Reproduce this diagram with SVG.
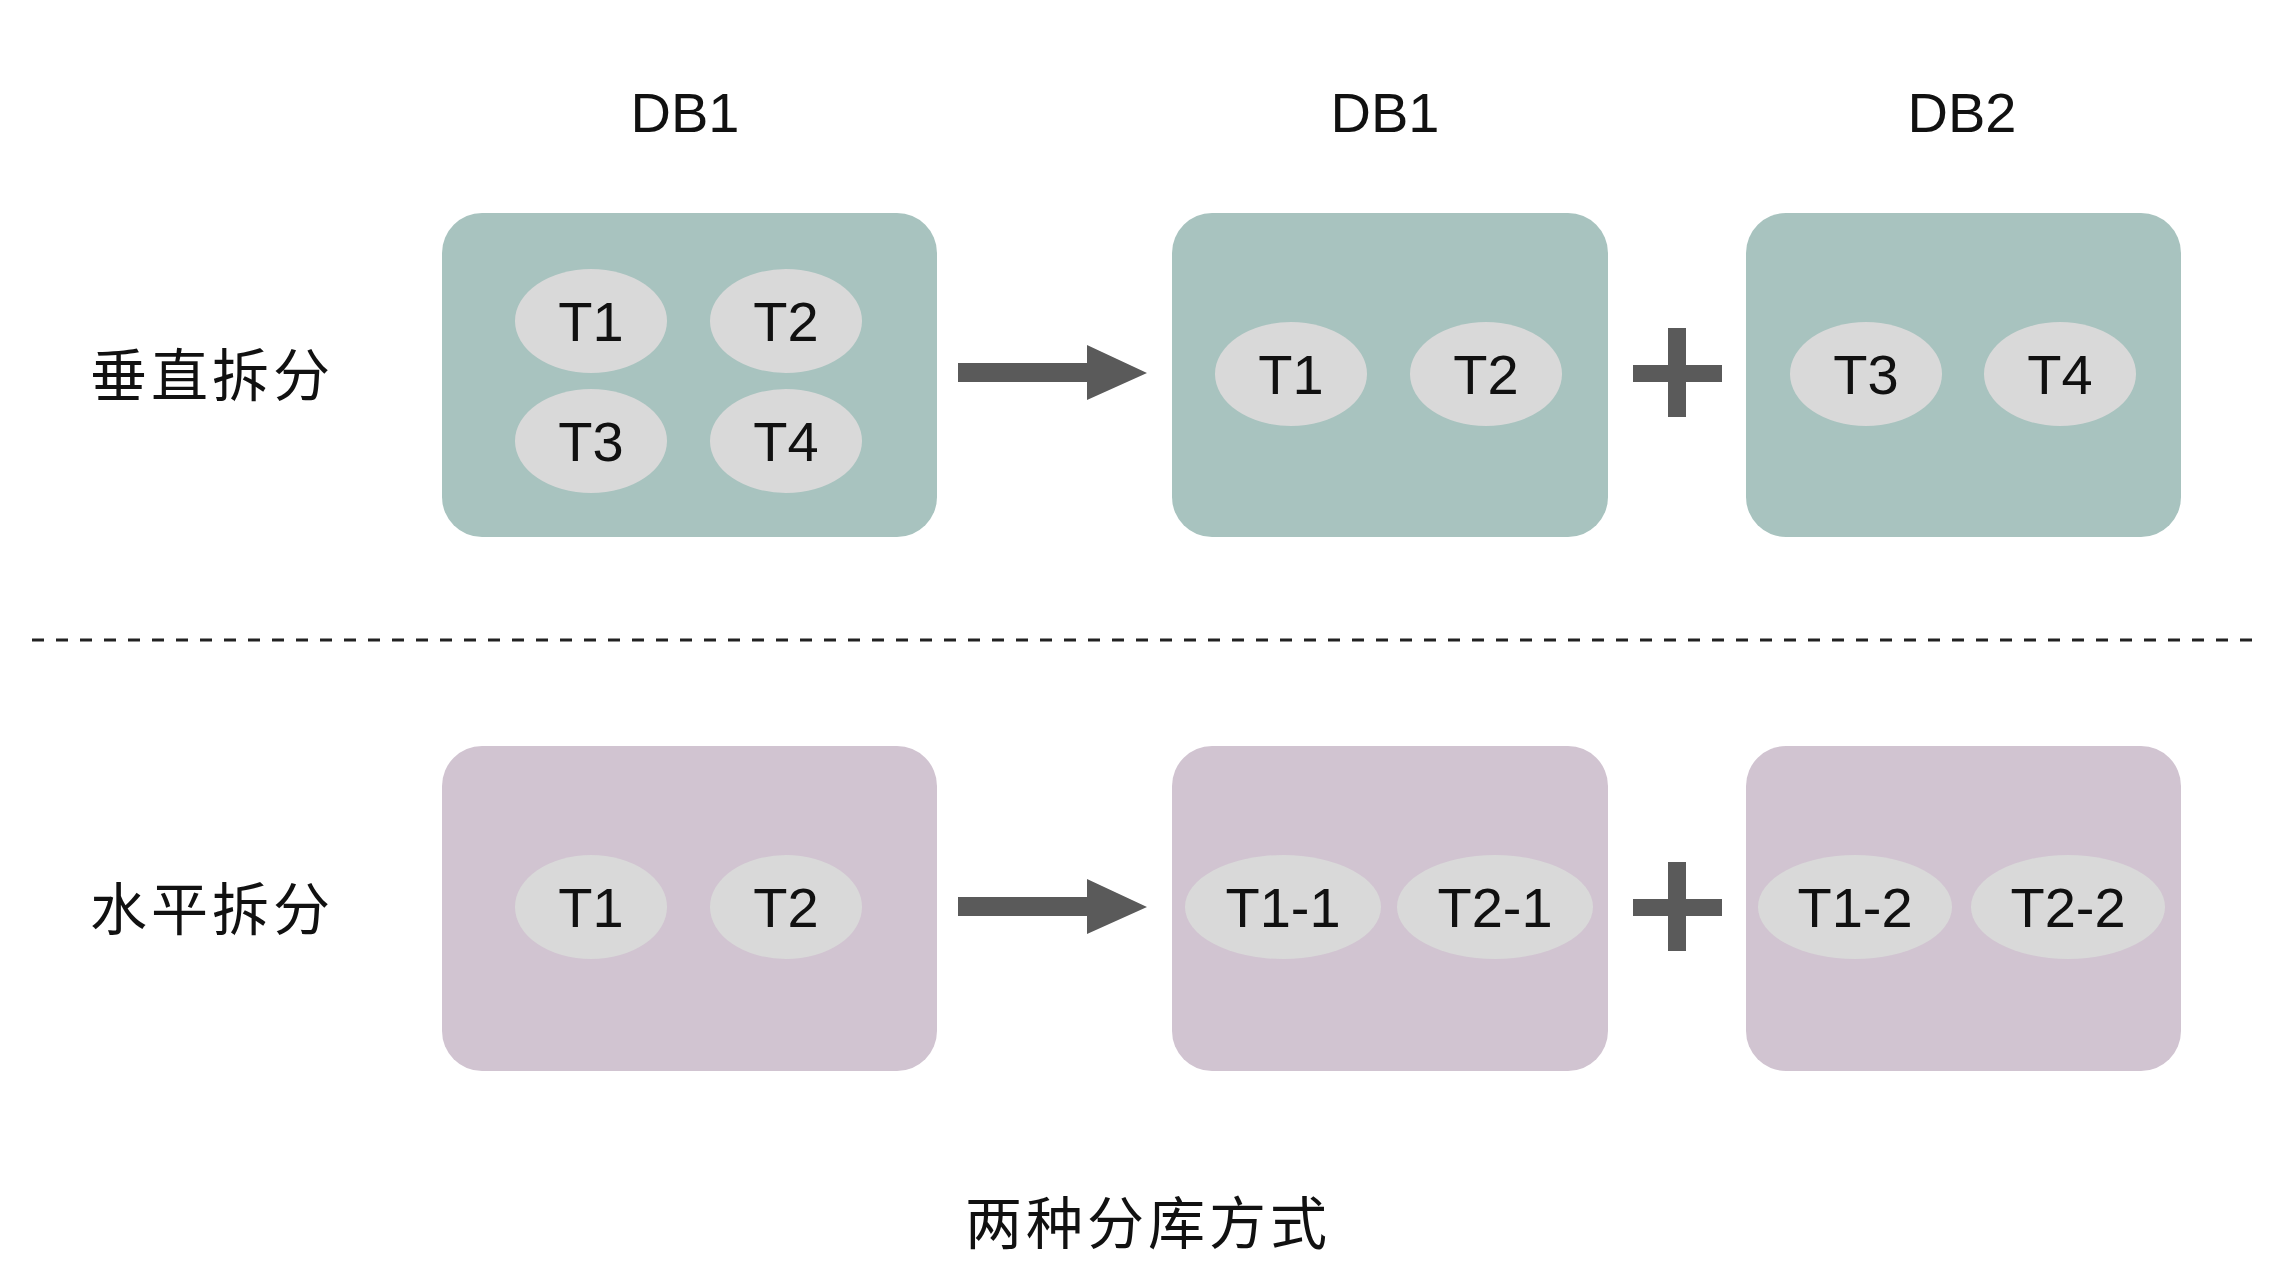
<svg xmlns="http://www.w3.org/2000/svg" width="2284" height="1280" viewBox="0 0 2284 1280">
<style>
.teal{fill:#a8c3bf}
.purple{fill:#d1c4d1}
.ell{fill:#d9d9d9}
.t{font-family:"Liberation Sans","Noto Sans",sans-serif;font-size:56px;fill:#111;text-anchor:middle}
.db{font-family:"Liberation Sans","Noto Sans",sans-serif;font-size:56px;fill:#111;text-anchor:middle}
.cn{font-family:"Noto Sans CJK SC","Noto Sans",sans-serif;font-size:57px;fill:#111;letter-spacing:4px}
.sym{fill:#5a5a5a}
</style>
<rect width="2284" height="1280" fill="#fff"/>
<g id="labels">
<text class="db" x="685" y="132">DB1</text>
<text class="db" x="1385" y="132">DB1</text>
<text class="db" x="1962" y="132">DB2</text>
<text class="cn" x="90" y="396">垂直拆分</text>
<text class="cn" x="90" y="930">水平拆分</text>
<text class="cn" x="965" y="1244">两种分库方式</text>
</g>
<g id="v-db1">
<rect class="teal" x="442" y="213" width="495" height="324" rx="40"/>
<ellipse class="ell" cx="591" cy="321" rx="76" ry="52"/><text class="t" x="591" y="341">T1</text>
<ellipse class="ell" cx="786" cy="321" rx="76" ry="52"/><text class="t" x="786" y="341">T2</text>
<ellipse class="ell" cx="591" cy="441" rx="76" ry="52"/><text class="t" x="591" y="461">T3</text>
<ellipse class="ell" cx="786" cy="441" rx="76" ry="52"/><text class="t" x="786" y="461">T4</text>
</g>
<g id="v-db1b">
<rect class="teal" x="1172" y="213" width="436" height="324" rx="40"/>
<ellipse class="ell" cx="1291" cy="374" rx="76" ry="52"/><text class="t" x="1291" y="394">T1</text>
<ellipse class="ell" cx="1486" cy="374" rx="76" ry="52"/><text class="t" x="1486" y="394">T2</text>
</g>
<g id="v-db2">
<rect class="teal" x="1746" y="213" width="435" height="324" rx="40"/>
<ellipse class="ell" cx="1866" cy="374" rx="76" ry="52"/><text class="t" x="1866" y="394">T3</text>
<ellipse class="ell" cx="2060" cy="374" rx="76" ry="52"/><text class="t" x="2060" y="394">T4</text>
</g>
<g id="h-db">
<rect class="purple" x="442" y="746" width="495" height="325" rx="40"/>
<ellipse class="ell" cx="591" cy="907" rx="76" ry="52"/><text class="t" x="591" y="927">T1</text>
<ellipse class="ell" cx="786" cy="907" rx="76" ry="52"/><text class="t" x="786" y="927">T2</text>
</g>
<g id="h-db1">
<rect class="purple" x="1172" y="746" width="436" height="325" rx="40"/>
<ellipse class="ell" cx="1283" cy="907" rx="98" ry="52"/><text class="t" x="1283" y="927">T1-1</text>
<ellipse class="ell" cx="1495" cy="907" rx="98" ry="52"/><text class="t" x="1495" y="927">T2-1</text>
</g>
<g id="h-db2">
<rect class="purple" x="1746" y="746" width="435" height="325" rx="40"/>
<ellipse class="ell" cx="1855" cy="907" rx="97" ry="52"/><text class="t" x="1855" y="927">T1-2</text>
<ellipse class="ell" cx="2068" cy="907" rx="97" ry="52"/><text class="t" x="2068" y="927">T2-2</text>
</g>
<g id="connectors">
<line x1="32" y1="640" x2="2253" y2="640" stroke="#222" stroke-width="3" stroke-dasharray="12 12"/>
<polygon class="sym" points="958,363 1087,363 1087,345 1147,373 1087,400 1087,382 958,382"/>
<polygon class="sym" points="958,897 1087,897 1087,879 1147,907 1087,934 1087,916 958,916"/>
<path class="sym" d="M1668,328h18v37h36v17h-36v35h-18v-35h-35v-17h35z"/>
<path class="sym" d="M1668,862h18v37h36v17h-36v35h-18v-35h-35v-17h35z"/>
</g>
</svg>
